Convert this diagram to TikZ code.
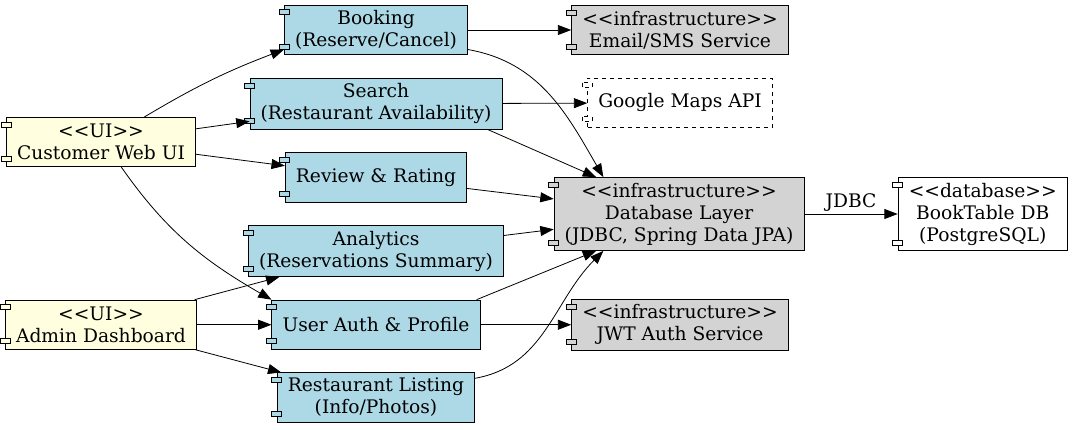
\documentclass[tikz,border=0pt]{standalone}
\usepackage{fontspec}
\setmainfont{DejaVu Serif}
\usepackage{tikz}
\usetikzlibrary{arrows.meta,positioning,calc}
\definecolor{uiyellow}{HTML}{FFFFE0}
\definecolor{svcblue}{HTML}{ADD8E6}
\definecolor{infragrey}{HTML}{D3D3D3}
% stereotype in double angle brackets (kern keeps << from turning into a guillemet)
\newcommand{\stereo}[1]{<\kern0pt<#1>\kern0pt>}
% the two small tabs on the left side of a component box
\newcommand{\comptabs}[3][]{%
  \draw[line width=0.6pt, fill=#3, #1] ($(#2.north west)+(-5,5)$) rectangle ++(10,5);
  \draw[line width=0.6pt, fill=#3, #1] ($(#2.south west)+(-5,-11)$) rectangle ++(10,5);}

\begin{document}
\begin{tikzpicture}[x=0.75pt, y=-0.75pt, node distance=17pt and 70pt,
  every node/.style={font=\fontsize{14pt}{16.5pt}\selectfont},
  comp/.style={draw, align=center, minimum height=37pt, inner xsep=8pt, inner ysep=4pt, line width=0.6pt},
  ui/.style={comp, fill=uiyellow}, svc/.style={comp, fill=svcblue}, infra/.style={comp, fill=infragrey},
  store/.style={comp, fill=white}, ext/.style={comp, dashed, fill=white},
  arr/.style={-{Triangle[length=10pt,width=7.5pt]}, line width=0.6pt}]
\useasboundingbox (0,0) rectangle (1081,429);
\node[svc] (booking) at (376,30) {Booking\\(Reserve/Cancel)};
\node[svc, below=of booking] (search) {Search\\(Restaurant Availability)};
\node[svc, below=of search] (review) {Review \& Rating};
\node[svc, below=of review] (analytics) {Analytics\\(Reservations Summary)};
\node[svc, below=of analytics] (uauth) {User Auth \& Profile};
\node[svc, below=of uauth] (rlisting) {Restaurant Listing\\(Info/Photos)};
\node[ui] (cweb) at (101,142) {\stereo{UI}\\Customer Web UI};
\node[ui] (admin) at (cweb |- uauth) {\stereo{UI}\\Admin Dashboard};
\node[infra] (email) at (680,30) {\stereo{infrastructure}\\Email/SMS Service};
\node[ext, below=of email] (gmaps) {Google Maps API};
\node[infra] (dblayer) at (679,214) {\stereo{infrastructure}\\Database Layer\\(JDBC, Spring Data JPA)};
\node[infra] (jwt) at (email |- uauth) {\stereo{infrastructure}\\JWT Auth Service};
\node[store, right=of dblayer] (bookdb) {\stereo{database}\\BookTable DB\\(PostgreSQL)};
\foreach \n/\c in {cweb/uiyellow, admin/uiyellow, booking/svcblue, search/svcblue, review/svcblue,
  analytics/svcblue, uauth/svcblue, rlisting/svcblue, email/infragrey, dblayer/infragrey,
  jwt/infragrey, bookdb/white}
  \comptabs{\n}{\c};
\comptabs[dashed]{gmaps}{white};
\draw[arr] (cweb.30) to[bend left=5] (booking.192);
\draw[arr] (cweb) -- (search);
\draw[arr] (cweb) -- (review);
\draw[arr] (cweb.-51) to[out=-55, in=150] (uauth.north west);
\draw[arr] (admin) -- (analytics);
\draw[arr] (admin) -- (uauth);
\draw[arr] (admin) -- (rlisting);
\draw[arr] (booking) -- (email);
\draw[arr] (booking.-12) to[out=-10, in=120] (dblayer.154);
\draw[arr] (search) -- (gmaps);
\draw[arr] (search.-13) -- (dblayer.156);
\draw[arr] (review) -- (dblayer);
\draw[arr] (analytics) -- (dblayer);
\draw[arr] (uauth.14) -- (dblayer.204);
\draw[arr] (uauth) -- (jwt);
\draw[arr] (rlisting.11) to[out=10, in=225] (dblayer.206);
\draw[arr] (dblayer) -- node[above, inner sep=2pt]{JDBC} (bookdb);
\end{tikzpicture}
\end{document}
